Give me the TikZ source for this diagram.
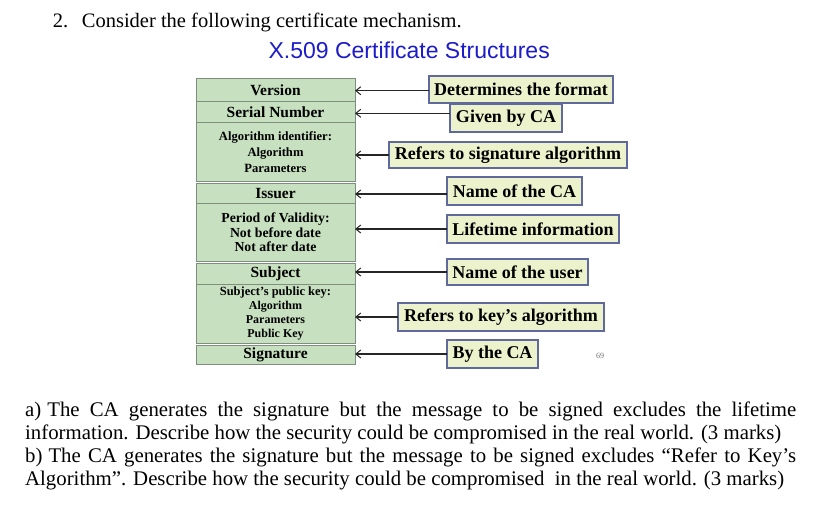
\documentclass[tikz,border=0pt]{standalone}
\usepackage{fontspec}
\setmainfont{Liberation Serif}
\newfontfamily\arialfont{Liberation Sans}
\usetikzlibrary{arrows.meta}
\definecolor{rowfill}{RGB}{199,225,192}
\definecolor{rowline}{RGB}{128,142,128}
\definecolor{tagfill}{RGB}{236,242,204}
\definecolor{tagline}{RGB}{95,105,155}
\definecolor{titleblue}{RGB}{28,28,200}

\begin{document}
\begin{tikzpicture}[x=1pt,y=-1pt,
  field/.style={draw=rowline, line width=1pt, fill=rowfill, anchor=north west,
    minimum width=159pt, inner sep=0pt, outer sep=0pt, align=center},
  big/.style={font=\bfseries\fontsize{15.5}{18}\selectfont},
  tag/.style={draw=tagline, line width=1.1pt, fill=tagfill, anchor=west,
    inner sep=0pt, outer sep=0pt, font=\bfseries\fontsize{18}{20}\selectfont},
  pointer/.style={draw=black!85, line width=1.1pt,
    -{Straight Barb[length=5pt,width=8pt,line width=1pt]}},
  body/.style={anchor=base west, inner sep=0pt, font=\fontsize{20.8}{23}\selectfont}]

\useasboundingbox[fill=white] (0,0) rectangle (823,517);

% heading and title
\node[body, font=\fontsize{20.5}{23}\selectfont] (num) at (52.7,27.5) {2.};
\node[body, font=\fontsize{20.5}{23}\selectfont] (head) at (81.7,27.5) {Consider the following certificate mechanism.};
\node[anchor=base, inner sep=0pt, font=\arialfont\fontsize{23}{26}\selectfont, text=titleblue]
  (title) at (409.2,58.3) {X.509 Certificate Structures};

% certificate fields
\node[field, big, minimum height=23.5pt] (r1) at (196,78) {Version};
\node[field, big, minimum height=21pt] (r2) at (196,101.5) {Serial Number};
\node[field, minimum height=58.5pt, font=\bfseries\fontsize{12.6}{16}\selectfont]
  (r3) at (196,122.5) {Algorithm identifier:\\Algorithm\\Parameters};
\node[field, big, minimum height=20.5pt] (r4) at (196,183) {Issuer};
\node[field, minimum height=57.5pt, font=\bfseries\fontsize{13.8}{14.4}\selectfont]
  (r5) at (196,203.5) {Period of Validity:\\Not before date\\Not after date};
\node[field, big, minimum height=21pt] (r6) at (196,263) {Subject};
\node[field, minimum height=59.5pt, font=\bfseries\fontsize{12}{14}\selectfont]
  (r7) at (196,284) {{\fontsize{12.5}{14}\selectfont Subject’s public key:}\\Algorithm\\Parameters\\Public Key};
\node[field, big, minimum height=19.5pt] (r8) at (196,345) {Signature};

% explanations
\node[tag, minimum width=184pt, minimum height=27pt] (t1) at (429,89.5) {Determines the format};
\node[tag, minimum width=112pt, minimum height=28pt] (t2) at (450,118) {Given by CA};
\node[tag, minimum width=238pt, minimum height=26pt] (t3) at (389,155) {Refers to signature algorithm};
\node[tag, minimum width=135pt, minimum height=28pt] (t4) at (447,191) {Name of the CA};
\node[tag, minimum width=172pt, minimum height=28pt] (t5) at (447,229) {Lifetime information};
\node[tag, minimum width=141pt, minimum height=26pt] (t6) at (447,272) {Name of the user};
\node[tag, minimum width=206pt, minimum height=28pt] (t7) at (398,317) {Refers to key’s algorithm};
\node[tag, minimum width=91pt, minimum height=28pt] (t8) at (447,354) {By the CA};

% pointers from explanations to fields
\coordinate (a1) at ([yshift=-1.2pt]t1.west);
\coordinate (a2) at ([yshift=4.7pt]t2.west);
\coordinate (a3) at (t3.west);
\coordinate (a4) at ([yshift=-3pt]t4.west);
\coordinate (a5) at (t5.west);
\coordinate (a6) at (t6.west);
\coordinate (a7) at (t7.west);
\coordinate (a8) at (t8.west);
\draw[pointer] (a1) -- (r1.east |- a1);
\draw[pointer] (a2) -- (r2.east |- a2);
\draw[pointer] (a3) -- (r3.east |- a3);
\draw[pointer] (a4) -- (r4.east |- a4);
\draw[pointer] (a5) -- (r5.east |- a5);
\draw[pointer] (a6) -- (r6.east |- a6);
\draw[pointer] (a7) -- (r7.east |- a7);
\draw[pointer] (a8) -- (r8.east |- a8);

\node[inner sep=0pt, font=\fontsize{8}{9}\selectfont, text=black!55] (pg) at (600,355.5) {69};

% questions
\node[body] (qa1) at (25,416.7) {\makebox[771pt][s]{a)\hspace{6pt}The CA generates the signature but the message to be signed excludes the lifetime}};
\node[body] (qa2) at (25,439) {information. Describe how the security could be compromised in the real world. (3 marks)};
\node[body] (qb1) at (25,462.7) {\makebox[771pt][s]{b)\hspace{6pt}The CA generates the signature but the message to be signed excludes “Refer to Key’s}};
\node[body] (qb2) at (25,485) {Algorithm”. Describe how the security could be compromised\ \ in the real world. (3 marks)};
\end{tikzpicture}
\end{document}
